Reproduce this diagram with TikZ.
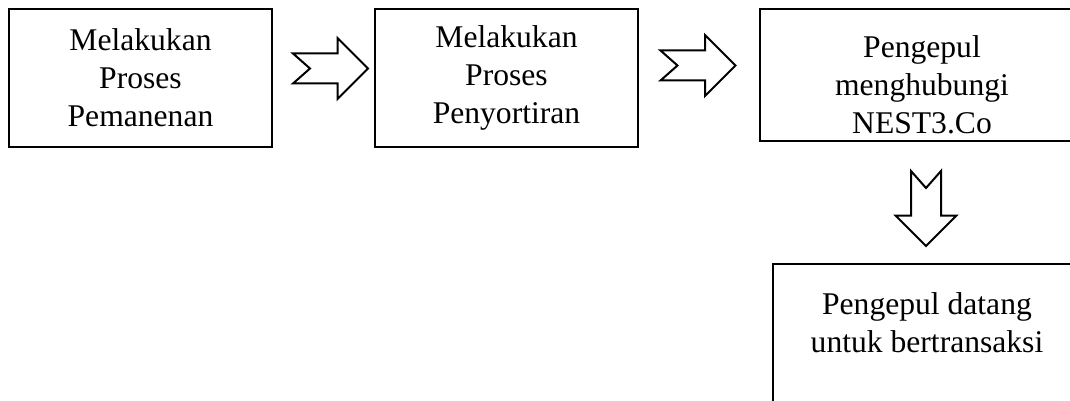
\documentclass[tikz,border=0pt]{standalone}
\usepackage{fontspec}
\setmainfont{Liberation Serif}
\usetikzlibrary{positioning,calc}

\begin{document}
\begin{tikzpicture}
   [kotak/.style={rectangle,draw,line width=1pt,align=center,inner sep=0pt,
     font=\fontsize{15.8}{19}\selectfont},
    panah/.pic={\draw[line width=1pt,fill=white] (-18.75pt,7.5pt) -- (3.5pt,7.5pt) -- (3.5pt,15.25pt) -- (18.75pt,0pt)
       -- (3.5pt,-15.25pt) -- (3.5pt,-7.5pt) -- (-18.75pt,-7.5pt) -- (-10.25pt,0pt) -- cycle;}]

\useasboundingbox (0,0) rectangle (535pt,-200.5pt);
\clip (0,0) rectangle (535pt,-200.5pt);

\node [kotak,minimum width=131.5pt,minimum height=69pt] (panen) at (70.25pt,-39pt) {Melakukan\\Proses\\Pemanenan};
\node [kotak,minimum width=131.5pt,minimum height=69pt,right=50.5pt of panen] (sortir) {Melakukan\\Proses\\Penyortiran};
\node [kotak,minimum width=162pt,minimum height=66pt,right=60pt of sortir.north east,anchor=north west] (hubungi) {\rule{0pt}{21pt}Pengepul\\menghubungi\\NEST3.Co};
\node [kotak,minimum width=154pt,minimum height=78pt,below=60.5pt of hubungi.south west,anchor=north west,xshift=6.5pt] (datang) {Pengepul datang\\untuk bertransaksi\\\mbox{}};

\pic at ($(panen.east)!0.5!(sortir.west)+(3.5pt,4.75pt)$) {panah};
\pic at ($(sortir.east)!0.5!(hubungi.west)+(-0.5pt,5.5pt)$) {panah};
\pic [rotate=-90] at ($(hubungi.south)!0.5!(datang.north)+(0.75pt,-3pt)$) {panah};
\end{tikzpicture}
\end{document}
